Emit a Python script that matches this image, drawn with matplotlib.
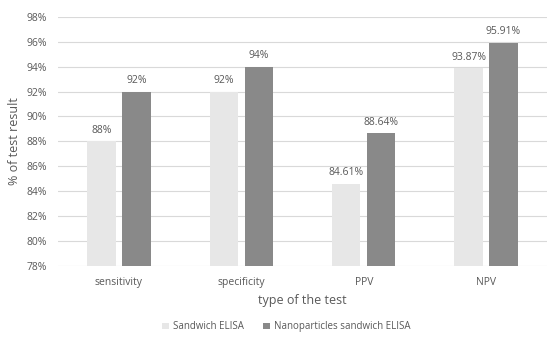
import numpy as np
import matplotlib.pyplot as plt

# test metrics for the two ELISA formats
categories = ["sensitivity", "specificity", "PPV", "NPV"]
sandwich = [88, 92, 84.61, 93.87]
nano = [92, 94, 88.64, 95.91]
sandwich_labels = ["88%", "92%", "84.61%", "93.87%"]
nano_labels = ["92%", "94%", "88.64%", "95.91%"]
yticks = [78, 80, 82, 84, 86, 88, 90, 92, 94, 96, 98]

plt.rcParams['font.family'] = ['Open Sans', 'DejaVu Sans']
text_col = "#595959"

fig = plt.figure(figsize=(5.5, 3.37), dpi=100)
ax = fig.add_axes([0.105, 0.211, 0.89, 0.739])

x = np.arange(len(categories))
w = 0.23
off = 0.143
b1 = ax.bar(x - off, sandwich, w, color="#e7e7e7", label="Sandwich ELISA", zorder=2)
b2 = ax.bar(x + off, nano, w, color="#898989", label="Nanoparticles sandwich ELISA", zorder=2)

for bars, labs in [(b1, sandwich_labels), (b2, nano_labels)]:
    for b, t in zip(bars, labs):
        ax.annotate(t, (b.get_x() + b.get_width() / 2, b.get_height()),
                    xytext=(0, 4), textcoords="offset points",
                    ha="center", va="bottom", fontsize=7.5, color=text_col)

ax.set_ylim(78, 98)
ax.set_xlim(-0.5, len(categories) - 0.5)
ax.set_yticks(yticks)
ax.set_yticklabels([f"{v}%" for v in yticks])
ax.set_xticks(x)
ax.set_xticklabels(categories)
ax.tick_params(length=0, labelsize=7.5, labelcolor=text_col)
ax.tick_params(axis="x", pad=8)
ax.tick_params(axis="y", pad=8)
ax.grid(axis="y", color="#d9d9d9", linewidth=0.8, zorder=0)
for s in ax.spines.values():
    s.set_visible(False)

ax.set_xlabel("type of the test", fontsize=9, color=text_col, labelpad=4)
ax.set_ylabel("% of test result", fontsize=9, color=text_col, labelpad=4)

fig.legend(handles=[b1, b2], loc="center", bbox_to_anchor=(0.52, 0.03), ncol=2,
           frameon=False, fontsize=7, labelcolor=text_col,
           handlelength=0.7, handleheight=0.7, columnspacing=2.0, handletextpad=0.4)

fig.savefig("out.png", dpi=100)
